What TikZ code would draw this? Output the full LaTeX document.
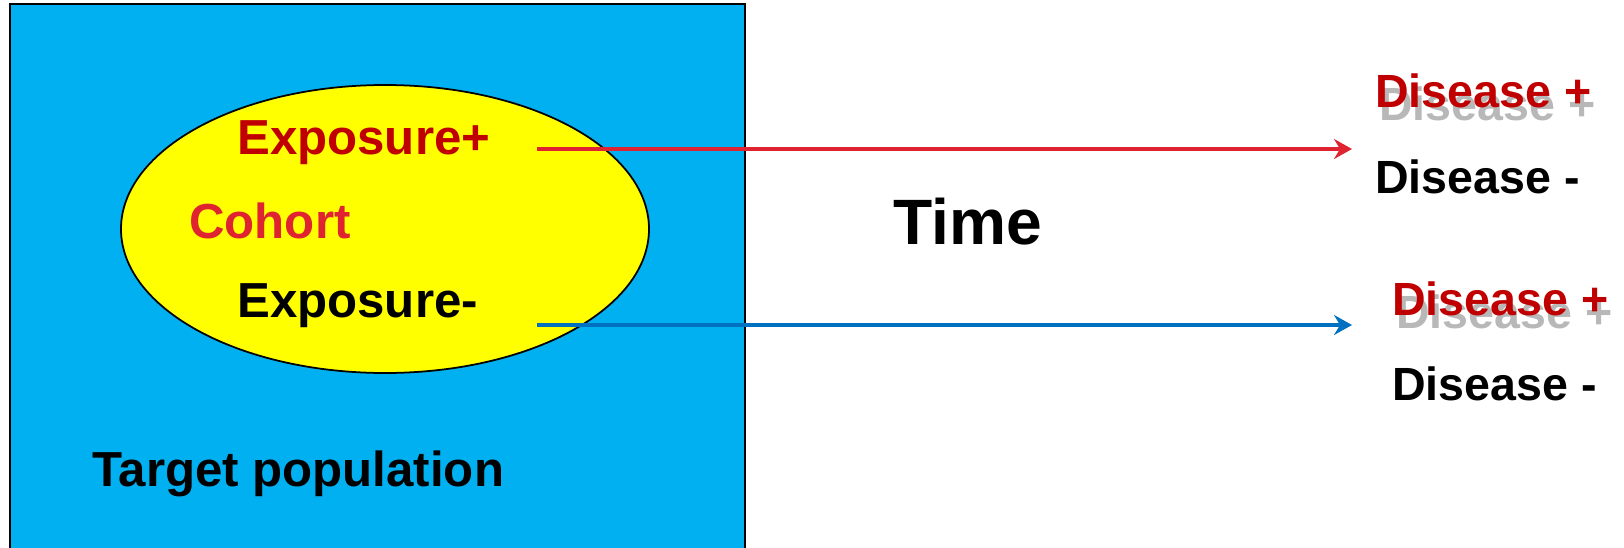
\documentclass[tikz,border=0pt]{standalone}
\usepackage{fontspec}
\setmainfont{Liberation Sans}
\usetikzlibrary{arrows.meta}

\definecolor{popblue}{HTML}{00B0F0}
\definecolor{cohortyellow}{HTML}{FFFF00}
\definecolor{darkred}{HTML}{C00000}
\definecolor{arrowred}{HTML}{DF2330}
\definecolor{arrowblue}{HTML}{0070C0}

\begin{document}
\begin{tikzpicture}[x=0.02cm, y=-0.02cm,
    label/.style={inner sep=0pt, anchor=base west, font=\fontsize{26.5}{30}\selectfont\bfseries},
    biglabel/.style={label, font=\fontsize{28}{32}\selectfont\bfseries},
    shadowtext/.style={label, text=black!35, opacity=0.8},
    timearrow/.style={line width=2.7pt, -{Stealth[length=18pt*0.02/0.0352, width=20pt*0.02/0.0352, inset=6pt*0.02/0.0352]}}]
    \useasboundingbox (0,0) rectangle (1624,548);

    % Cilova populace
    \fill[popblue] (10,4) rectangle (745,560);
    \draw[line width=1pt] (10,560) -- (10,4) -- (745,4) -- (745,560);

    % Kohorta
    \draw[line width=1pt, fill=cohortyellow] (385,229) ellipse [x radius=264, y radius=144];

    % Popisky uvnitr
    \node[biglabel, text=darkred] (expplus) at (237,154) {Exposure+};
    \node[biglabel, text=arrowred] (cohort) at (189,238) {Cohort};
    \node[biglabel] (expminus) at (237,317) {Exposure-};
    \node[biglabel] (target) at (92,486) {Target population};

    % Cas
    \node[label, font=\fontsize{36.5}{40}\selectfont\bfseries] (time) at (893,244) {Time};

    % Vysledky (exponovani)
    \node[shadowtext] (dplusshA) at (1379,120) {Disease +};
    \node[label, text=darkred] (dplusA) at (1375,107) {Disease +};
    \node[label] (dminusA) at (1375,193) {Disease -};

    % Vysledky (neexponovani)
    \node[shadowtext] (dplusshB) at (1396,328) {Disease +};
    \node[label, text=darkred] (dplusB) at (1392,315) {Disease +};
    \node[label] (dminusB) at (1392,400) {Disease -};

    % Sipky
    \coordinate (redstart) at (537,149);
    \coordinate (redend) at (1352,149);
    \coordinate (bluestart) at (537,325);
    \coordinate (blueend) at (1352,325);
    \draw[timearrow, arrowred] (redstart) -- (redend);
    \draw[timearrow, arrowblue] (bluestart) -- (blueend);
\end{tikzpicture}
\end{document}
